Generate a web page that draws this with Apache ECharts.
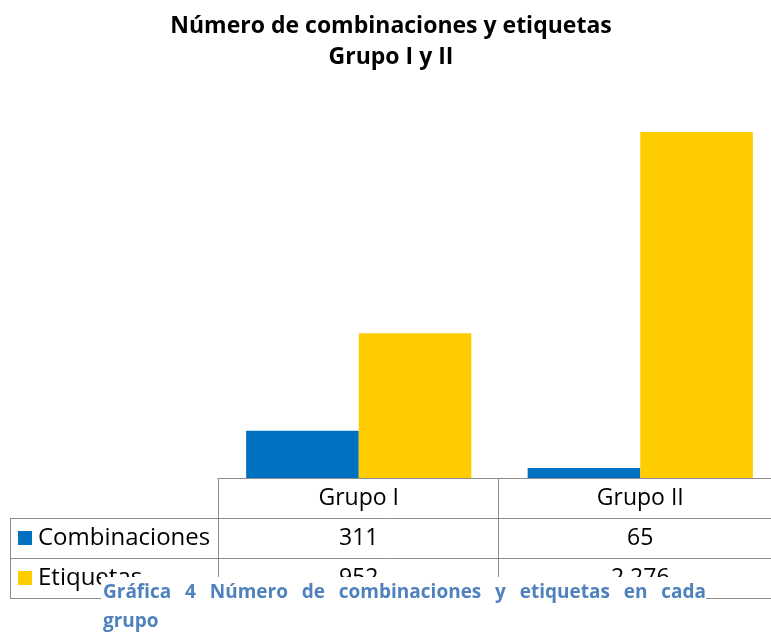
<!DOCTYPE html>
<html>
<head>
<meta charset="utf-8">
<script src="https://cdn.jsdelivr.net/npm/echarts@6/dist/echarts.min.js"></script>
<style>
  html, body { margin: 0; padding: 0; background: #fff; }
  #main { width: 771px; height: 635px; }
</style>
</head>
<body>
<div id="main"></div>
<script>
// datos de la gráfica
var grupos = ['Grupo I', 'Grupo II'];
var combinaciones = [311, 65];
var etiquetas = [952, 2276];
var nombres = ['Combinaciones', 'Etiquetas'];
var colores = ['#0070C0', '#FFCC00'];

var FONT = '"Open Sans"';
var lineColor = '#8c8c8c';

function fmt(n) {
    // separador de miles con espacio
    return String(n).replace(/\B(?=(\d{3})+(?!\d))/g, ' ');
}

var myChart = echarts.init(document.getElementById('main'));

var option = {
    backgroundColor: '#fff',
    animation: false,
    grid: { left: 218, top: 98, right: -10, height: 380, outerBoundsMode: 'none' },
    xAxis: {
        type: 'category',
        data: grupos,
        axisLine: { lineStyle: { color: lineColor, width: 1 } },
        axisTick: { show: false },
        axisLabel: {
            margin: 0,
            interval: 0,
            formatter: function (v, i) {
                return '{h|' + v + '}\n{v|' + fmt(combinaciones[i]) + '}\n{v|' + fmt(etiquetas[i]) + '}';
            },
            rich: {
                h: { fontFamily: FONT, fontSize: 23, color: '#000', lineHeight: 40 },
                v: { fontFamily: FONT, fontSize: 23, color: '#000', lineHeight: 40 }
            }
        }
    },
    yAxis: {
        type: 'value',
        min: 0,
        max: 2500,
        show: false
    },
    series: [
        {
            name: nombres[0],
            type: 'bar',
            data: combinaciones,
            barGap: 0,
            barCategoryGap: '20%',
            itemStyle: { color: colores[0] }
        },
        {
            name: nombres[1],
            type: 'bar',
            data: etiquetas,
            barGap: 0,
            barCategoryGap: '20%',
            itemStyle: { color: colores[1] }
        }
    ],
    graphic: []
};

var g = [];
// titulo
g.push({ type: 'text', x: 391, y: 11, style: {
    text: 'Número de combinaciones y etiquetas\nGrupo I y II',
    font: 'bold 23px ' + FONT, fill: '#000', align: 'center', lineHeight: 31 } });

// lineas de la tabla
function hline(y, x1, x2) {
    g.push({ type: 'line', shape: { x1: x1, y1: y, x2: x2, y2: y }, style: { stroke: lineColor, lineWidth: 1 } });
}
function vline(x, y1, y2) {
    g.push({ type: 'line', shape: { x1: x, y1: y1, x2: x, y2: y2 }, style: { stroke: lineColor, lineWidth: 1 } });
}
hline(518.5, 10, 771);
hline(558.5, 10, 771);
hline(598.5, 10, 771);
vline(218.5, 478, 598);
vline(498.5, 478, 598);
vline(10.5, 518, 598);

// leyenda en la tabla
for (var i = 0; i < nombres.length; i++) {
    var cy = 538 + i * 40;
    g.push({ type: 'rect', shape: { x: 18, y: cy - 7, width: 14, height: 14 }, style: { fill: colores[i] } });
    g.push({ type: 'text', x: 38, y: cy, style: {
        text: nombres[i], font: '24px ' + FONT, fill: '#000', verticalAlign: 'middle' } });
}

// pie de grafica (tapa parte de la tabla), primera linea justificada
g.push({ type: 'rect', z: 100, shape: { x: 101, y: 577, width: 605, height: 58 }, style: { fill: '#fff' } });
var capFont = 'bold 19px ' + FONT;
var capWords = ['Gráfica', '4', 'Número', 'de', 'combinaciones', 'y', 'etiquetas', 'en', 'cada'];
var ctx = document.createElement('canvas').getContext('2d');
ctx.font = capFont;
var total = 0;
capWords.forEach(function (w) { total += ctx.measureText(w).width; });
var gap = (603 - total) / (capWords.length - 1);
var cx = 103;
capWords.forEach(function (w) {
    g.push({ type: 'text', z: 101, x: cx, y: 593, style: {
        text: w, font: capFont, fill: '#4F81BD', verticalAlign: 'middle' } });
    cx += ctx.measureText(w).width + gap;
});
g.push({ type: 'text', z: 101, x: 103, y: 622, style: {
    text: 'grupo', font: capFont, fill: '#4F81BD', verticalAlign: 'middle' } });

option.graphic = g;
myChart.setOption(option);
</script>
</body>
</html>
